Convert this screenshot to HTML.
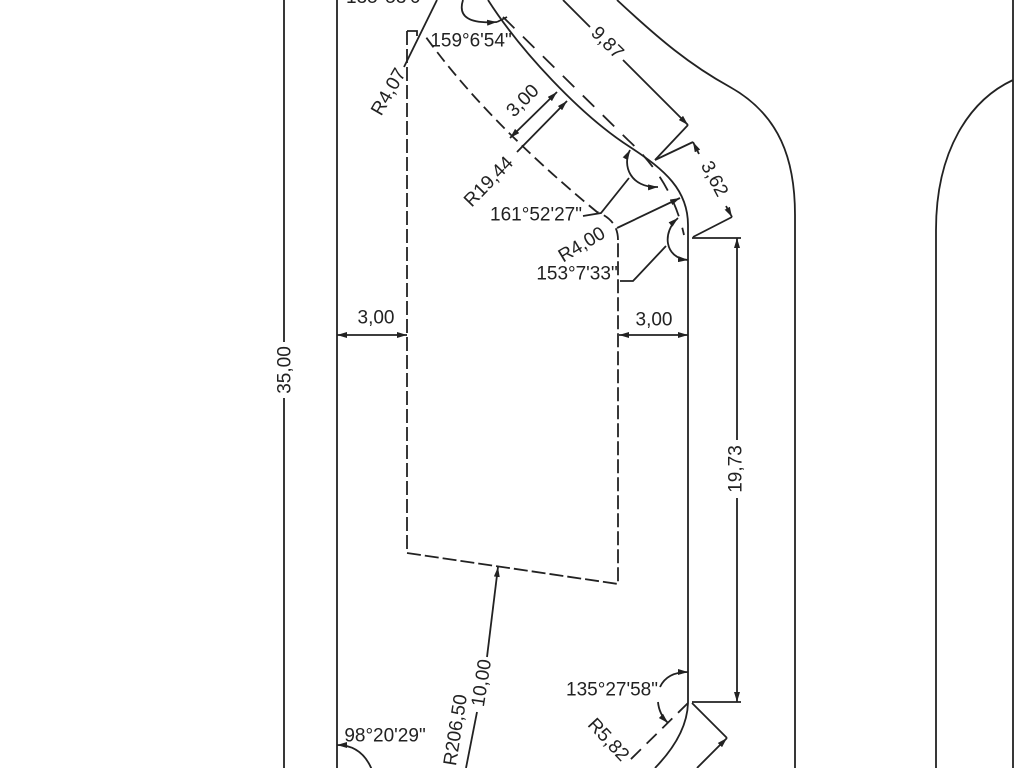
<!DOCTYPE html>
<html>
<head>
<meta charset="utf-8">
<style>
html,body{margin:0;padding:0;background:#fff;}
svg{display:block;}
</style>
</head>
<body>
<svg width="1024" height="768" viewBox="0 0 1024 768" xmlns="http://www.w3.org/2000/svg">
<defs>
<marker id="a" viewBox="0 0 10 6" refX="10" refY="3" markerWidth="10" markerHeight="6" markerUnits="userSpaceOnUse" orient="auto-start-reverse">
<path d="M0,0L10,3L0,6z" fill="#222"/>
</marker>
</defs>
<rect width="1024" height="768" fill="#fff"/>
<g stroke="#222" stroke-width="1.8" fill="none" stroke-linecap="butt">
<!-- 35,00 dimension -->
<path d="M284,0 V342 M284,398 V768"/>
<!-- property line left -->
<path d="M337,0 V768"/>
<!-- lot boundary -->
<path d="M488,0 C520,50 580,115 630,147 C665,170 688,190 688,225 L688,703 Q687,735 655,768"/>
<!-- road curve -->
<path d="M617,0 C660,40 690,65 730,87 C780,115 795,160 795,215 L795,768"/>
<!-- far right -->
<path d="M1013,0 V768 M1013,80 C970,100 936,150 936,230 V768"/>
<!-- 9,87 -->
<path d="M563,0 L590,27"/>
<path d="M623,60 L688,125" marker-end="url(#a)"/>
<path d="M688,125 L655,160"/>
<!-- 3,62 -->
<path d="M693,142 L699,154" marker-start="url(#a)"/>
<path d="M726,206 L732,217" marker-end="url(#a)"/>
<path d="M693,142 L655,160 M732,217 L693,237"/>
<!-- 19,73 -->
<path d="M692,238 H741 M692,702 H741"/>
<path d="M737,238 V440" marker-start="url(#a)"/>
<path d="M737,498 V702" marker-end="url(#a)"/>
<!-- 3,00 horizontals -->
<path d="M337,335 H407" marker-start="url(#a)" marker-end="url(#a)"/>
<path d="M619,335 H688" marker-start="url(#a)" marker-end="url(#a)"/>
<!-- diagonal 3,00 -->
<path d="M510,138 L557,92" marker-start="url(#a)" marker-end="url(#a)"/>
<!-- R19,44 leader -->
<path d="M517,152 L567,101" marker-end="url(#a)"/>
<!-- R4,07 leader -->
<path d="M437,0 L404,67"/>
<!-- 159 arc -->
<path d="M463,0 Q455,25 497,22" marker-end="url(#a)"/>
<path d="M497,22 L507,17"/>
<!-- 161 leader and arc -->
<path d="M583,216 L601,213 L629,178"/>
<path d="M630,150 C622,165 630,188 658,187" marker-start="url(#a)" marker-end="url(#a)"/>
<!-- R4,00 leader -->
<path d="M617,228 L680,198" marker-end="url(#a)"/>
<!-- 153 leader and arc -->
<path d="M620,281 L633,281 L666,246"/>
<path d="M678,218 C662,232 664,258 688,260" marker-start="url(#a)" marker-end="url(#a)"/>
<!-- 135 arcs -->
<path d="M660,687 Q667,672 688,672" marker-end="url(#a)"/>
<path d="M658,702 Q659,714 668,723" marker-end="url(#a)"/>
<!-- R5,82 dashed -->
<path d="M688,703 L630,760" stroke-dasharray="14 8"/>
<!-- bottom-right dim -->
<path d="M692,703 L727,738"/>
<path d="M727,738 L697,768" marker-start="url(#a)"/>
<!-- 98 arc -->
<path d="M337,745 Q362,745 372,770" marker-start="url(#a)"/>
<!-- R206,50 / 10,00 -->
<path d="M498,567 L487,657" marker-start="url(#a)"/>
<path d="M477,712 L466,768"/>
<!-- dashed building -->
<path d="M407,31 V553 L618,584 V240" stroke-dasharray="14 4"/>
<path d="M618,240 Q618,220 597,212 Q485,120 423,33" stroke-dasharray="12 6"/>
<path d="M407,31 H417 V36"/>
<!-- center dashed line -->
<path d="M503,17 L628,140 Q672,180 684,235" stroke-dasharray="16 12"/>
</g>
<g font-family="Liberation Sans, Arial, sans-serif" font-size="19" fill="#222" text-anchor="middle" dominant-baseline="central">
<text x="346" y="3" text-anchor="start" dominant-baseline="alphabetic">135°53'0"</text>
<text x="471" y="41">159°6'54"</text>
<text transform="translate(607,43) rotate(45)">9,87</text>
<text transform="translate(389,92) rotate(-60)">R4,07</text>
<text transform="translate(523,101) rotate(-45)">3,00</text>
<text transform="translate(489,182) rotate(-46)">R19,44</text>
<text transform="translate(714,179) rotate(62)">3,62</text>
<text x="536" y="215">161°52'27"</text>
<text transform="translate(582,245) rotate(-31)">R4,00</text>
<text x="577" y="274">153°7'33"</text>
<text x="376" y="318">3,00</text>
<text x="654" y="320">3,00</text>
<text transform="translate(285,370) rotate(-90)">35,00</text>
<text transform="translate(736,469) rotate(-90)">19,73</text>
<text x="612" y="690">135°27'58"</text>
<text transform="translate(608,740) rotate(47)">R5,82</text>
<text x="385" y="736">98°20'29"</text>
<text transform="translate(482,683) rotate(-81)">10,00</text>
<text transform="translate(456,730) rotate(-81)">R206,50</text>
</g>
</svg>
</body>
</html>
